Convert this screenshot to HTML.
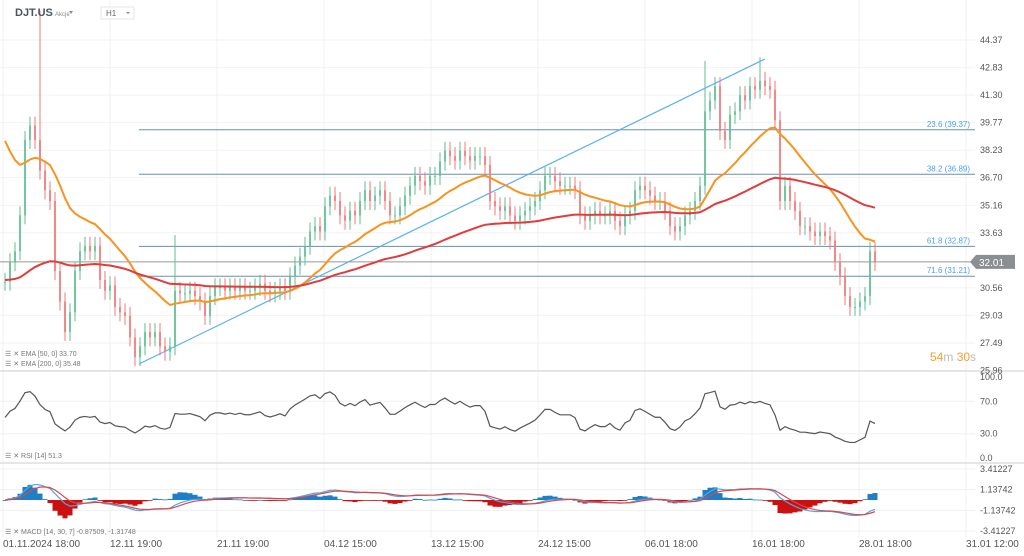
<!DOCTYPE html>
<html><head><meta charset="utf-8">
<style>
html,body{margin:0;padding:0;background:#fff;width:1024px;height:556px;overflow:hidden}
svg{display:block;font-family:"Liberation Sans",sans-serif}
</style></head>
<body>
<svg id="c" width="1024" height="556" viewBox="0 0 1024 556">
<g id="grid"></g>
<g id="fib"></g>
<g id="cand"></g>
<g id="ind"></g>
<g id="axes"></g>
<text x="15" y="16" font-size="11" font-weight="bold" fill="#4a5560">DJT.US</text>
<text x="55" y="16" font-size="6" fill="#888">Akcje</text>
<path d="M69 11 l4 0 l-2 3 z" fill="#888"/>
<rect x="101" y="7" width="33" height="12" fill="#fff" stroke="#e6e6e6"/>
<text x="106" y="16" font-size="8" fill="#666">H1</text>
<path d="M126 12 l4 0 l-2 2 z" fill="#888"/>
<text x="930" y="361" font-size="12" fill="#f7a02f">54<tspan fill="#bbb">m</tspan> 30<tspan fill="#bbb">s</tspan></text>
<g font-size="7" fill="#777">
<text x="5" y="356">☰ ✕ EMA [50, 0] 33.70</text>
<text x="5" y="366">☰ ✕ EMA [200, 0] 35.48</text>
<text x="5" y="458">☰ ✕ RSI [14] 51.3</text>
<text x="5" y="534">☰ ✕ MACD [14, 30, 7] -0.87509, -1.31748</text>
</g>
</svg>
<script>
const closes=[30.9,32.0,32.6,34.6,38.8,39.6,38.8,37.1,36.0,35.4,31.5,29.8,28.1,29.2,31.5,32.6,32.9,32.6,32.9,31.0,
30.4,30.7,29.5,29.2,29.0,27.8,26.7,27.3,28.1,27.8,28.1,27.3,27.0,27.3,30.4,30.25,30.25,30.4,30.1,29.8,
29.0,30.1,30.6,30.6,30.4,30.6,30.4,30.6,30.4,30.4,30.6,30.8,30.4,30.25,30.4,30.6,30.4,31.2,31.8,32.3,
32.9,33.7,34.0,33.7,35.1,35.7,35.4,34.6,34.3,34.85,34.6,35.4,36.0,35.4,35.7,36.0,35.4,34.6,34.6,35.1,
35.7,36.25,36.8,36.5,36.25,36.8,36.8,37.6,38.2,37.9,37.65,38.2,37.9,37.65,37.9,37.9,37.4,35.4,35.1,34.85,
35.1,34.6,34.3,34.6,34.85,35.1,35.4,36.0,36.8,36.8,36.5,36.25,36.25,36.25,36.0,34.6,34.3,34.6,34.85,34.6,
34.6,34.85,34.3,34.0,34.6,34.85,36.0,36.25,36.0,35.7,35.4,35.4,34.85,34.0,33.7,34.0,34.6,34.85,35.4,36.25,
40.4,41.0,41.8,39.3,38.8,40.2,40.4,41.3,41.0,41.8,41.6,42.1,41.8,41.6,39.9,35.4,36.25,35.4,34.85,34.0,
34.0,33.7,33.45,33.7,33.45,33.2,32.0,31.2,30.1,29.5,29.5,29.8,30.1,32.6,32.0];
const spikeIdx=[7,34,140,151];
const spikeHigh=[46.0,33.5,43.2,43.4];
const yTicks=[44.37,42.83,41.30,39.77,38.23,36.70,35.16,33.63,30.56,29.03,27.49,25.96];
const fibLevels=[39.37,36.89,32.87,31.21];
const fibNames=["23.6","38.2","61.8","71.6"];
const timeLabels=["01.11.2024  18:00","12.11  19:00","21.11  19:00","04.12  15:00","13.12  15:00","24.12  15:00","06.01  18:00","16.01  18:00","28.01  18:00","31.01  12:00"];
const rsiTicks=[100.0,70.0,30.0,0.0];
const macdTicks=[3.41227,1.13742,-1.13742,-3.41227];
const lastPrice=32.01;
const NS="http://www.w3.org/2000/svg";
const X=i=>5+i*5;
const Y=p=>40+(44.37-p)*17.95;
const YR=v=>458-v*0.81;
const YM=v=>500-v*9.1;
function mk(tag,attrs,parent){const e=document.createElementNS(NS,tag);for(const k in attrs)e.setAttribute(k,attrs[k]);parent.appendChild(e);return e;}
const G=id=>document.getElementById(id);
for(let k=0;k<10;k++){const l=mk('line',{x1:3+k*107,x2:3+k*107,y1:0,y2:538,stroke:'#f0f0f0'},G('grid'));

}
yTicks.forEach(t=>{const l=mk('line',{x1:0,x2:975,y1:Y(t),y2:Y(t),stroke:'#f2f2f2'},G('grid'));


const tx=mk('text',{x:980,y:Y(t)+3,'font-size':9,fill:'#555'},G('axes'));tx.textContent=t.toFixed(2);

});
[371,463].forEach(y=>{const l=mk('line',{x1:0,x2:1024,y1:y,y2:y,stroke:'#ddd','stroke-width':1.5},G('grid'));

});
rsiTicks.forEach(t=>{const tx=mk('text',{x:980,y:YR(t)+3,'font-size':9,fill:'#555'},G('axes'));tx.textContent=t.toFixed(1);


if(t>0&&t<100){const l=mk('line',{x1:0,x2:975,y1:YR(t),y2:YR(t),stroke:'#f0f0f0'},G('grid'));

}});
macdTicks.forEach(t=>{const tx=mk('text',{x:980,y:YM(t)+3,'font-size':9,fill:'#555'},G('axes'));tx.textContent=t.toFixed(5);


const l=mk('line',{x1:0,x2:975,y1:YM(t),y2:YM(t),stroke:'#f0f0f0'},G('grid'));

});
timeLabels.forEach((t,k)=>{const tx=mk('text',{x:3+k*107,y:547,'font-size':10,fill:'#555','xml:space':'preserve'},G('axes'));tx.textContent=t;

});
fibLevels.forEach((f,k)=>{const l=mk('line',{x1:139,x2:975,y1:Y(f),y2:Y(f),stroke:'#6a8fb0','stroke-width':1},G('fib'));


const tx=mk('text',{x:970,y:Y(f)-3,'font-size':8,fill:'#4aa0ee','text-anchor':'end'},G('fib'));tx.textContent=fibNames[k]+' ('+f.toFixed(2)+')';

});
const tl=mk('line',{x1:139,y1:364,x2:765,y2:59,stroke:'#5ab0f5','stroke-width':1.2},G('fib'));


const pl=mk('line',{x1:0,x2:975,y1:Y(lastPrice),y2:Y(lastPrice),stroke:'#999'},G('fib'));


const pb=mk('path',{d:`M970 ${Y(lastPrice)} l6 -7 h39 v14 h-39 z`,fill:'#8a8f94'},G('axes'));


const pt=mk('text',{x:979,y:Y(lastPrice)+4,'font-size':10,fill:'#fff'},G('axes'));pt.textContent=lastPrice.toFixed(2);


closes.forEach((c,i)=>{const o=i?closes[i-1]:c;let hi=Math.max(o,c)+0.5;const lo=Math.min(o,c)-0.5;
const si=spikeIdx.indexOf(i);if(si>=0)hi=spikeHigh[si];
const col=c>=o?'#5fbf90':'#f07878';
const w=mk('line',{x1:X(i),x2:X(i),y1:Y(hi),y2:Y(lo),stroke:col,'stroke-width':1},G('cand'));


const b=mk('rect',{x:X(i)-1,width:2,y:Y(Math.max(o,c)),height:Math.max(1,Math.abs(Y(o)-Y(c))),fill:col,'fill-opacity':0.75},G('cand'));

});
function ema(arr,n,seed){const a=2/(n+1);let e=seed;return arr.map(v=>e=e+a*(v-e));}
const e50=ema(closes,22,39.5),e200=ema(closes,80,31.0);
function poly(vals,yf,col,w,name){const p=mk('polyline',{points:vals.map((v,i)=>X(i)+','+yf(v)).join(' '),fill:'none',stroke:col,'stroke-width':w},G('ind'));

}
poly(e50,Y,'#f7931e',2,'ema50-line');
poly(e200,Y,'#e23b3b',2,'ema200-line');
const rsi=[];let ag=0.3,al=0.3;const rn=12;
closes.forEach((c,i)=>{const d=i?c-closes[i-1]:0;ag=(ag*(rn-1)+Math.max(d,0))/rn;al=(al*(rn-1)+Math.max(-d,0))/rn;rsi.push(al+ag===0?50:100*ag/(ag+al));});
poly(rsi,YR,'#555',1.2,'rsi-line');
const f=ema(closes,8,closes[0]),s=ema(closes,18,closes[0]);
const macd=f.map((v,i)=>(v-s[i])*0.8);const sig=ema(macd,4,0);
macd.forEach((m,i)=>{const h=(m-sig[i])*3;const r=mk('rect',{x:X(i)-2.5,width:5,y:Math.min(YM(h),500),height:Math.max(0.8,Math.abs(YM(h)-500)),fill:h>=0?'#1f7fc4':'#cc1010'},G('ind'));

});
poly(macd,YM,'#4aa8e8',1.2,'macd-line');
poly(sig,YM,'#e04545',1.2,'macd-signal-line');
</script>
</body></html>
